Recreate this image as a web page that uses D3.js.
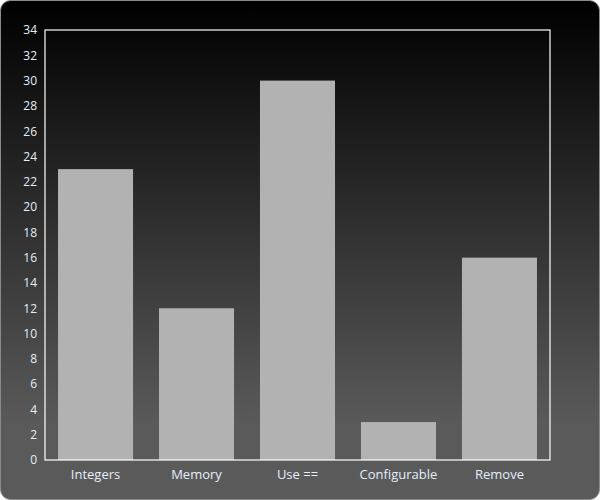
<!DOCTYPE html>
<html>
<head>
<meta charset="utf-8">
<script src="https://cdn.jsdelivr.net/npm/d3@7"></script>
<style>
  body { margin: 0; background: #fff; }
  svg { display: block; }
  .tick text { fill: #e4eefa; }
</style>
</head>
<body>
<svg width="600" height="500"></svg>
<script>
const categories = ["Integers", "Memory", "Use ==", "Configurable", "Remove"];
const values = [23, 12, 30, 3, 16];
const yTicks = d3.range(0, 35, 2);

const svg = d3.select("svg"),
    width = +svg.attr("width"),
    height = +svg.attr("height");

// background gradient
const grad = svg.append("defs").append("linearGradient")
    .attr("id", "bg").attr("x1", 0).attr("y1", 0).attr("x2", 0).attr("y2", 1);
grad.append("stop").attr("offset", "0%").attr("stop-color", "#000");
grad.append("stop").attr("offset", "85%").attr("stop-color", "#5a5a5a");
grad.append("stop").attr("offset", "100%").attr("stop-color", "#5a5a5a");

svg.append("rect")
    .attr("x", 0.5).attr("y", 0.5)
    .attr("width", width - 1).attr("height", height - 1)
    .attr("rx", 10).attr("ry", 10)
    .attr("fill", "url(#bg)")
    .attr("stroke", "#8a8a8a");

const margin = { top: 30, right: 50, bottom: 40, left: 45 };
const w = width - margin.left - margin.right,
    h = height - margin.top - margin.bottom;

const g = svg.append("g").attr("transform", `translate(${margin.left},${margin.top})`);

const x = d3.scaleBand()
    .domain(categories)
    .range([0, w])
    .paddingInner(0.257)
    .paddingOuter(0.129);

const y = d3.scaleLinear().domain([0, 34]).range([h, 0]);

// bars
g.selectAll(".bar")
    .data(values)
    .enter()
    .append("rect")
    .attr("class", "bar")
    .attr("x", (d, i) => x(categories[i]))
    .attr("y", d => y(d))
    .attr("width", x.bandwidth())
    .attr("height", d => h - y(d))
    .attr("fill", "#b2b2b2");

// plot frame
g.append("rect")
    .attr("x", 0).attr("y", 0)
    .attr("width", w).attr("height", h)
    .attr("fill", "none")
    .attr("stroke", "#fff")
    .attr("stroke-width", 1.2);

// axes
const yAxis = g.append("g")
    .call(d3.axisLeft(y).tickValues(yTicks).tickSize(0).tickPadding(8));
yAxis.attr("font-family", "'Open Sans', sans-serif").attr("font-size", 12);
yAxis.select(".domain").remove();

const xAxis = g.append("g")
    .attr("transform", `translate(0,${h})`)
    .call(d3.axisBottom(x).tickSize(0).tickPadding(10));
xAxis.attr("font-family", "'Open Sans', sans-serif").attr("font-size", 13);
xAxis.select(".domain").remove();
</script>
</body>
</html>
